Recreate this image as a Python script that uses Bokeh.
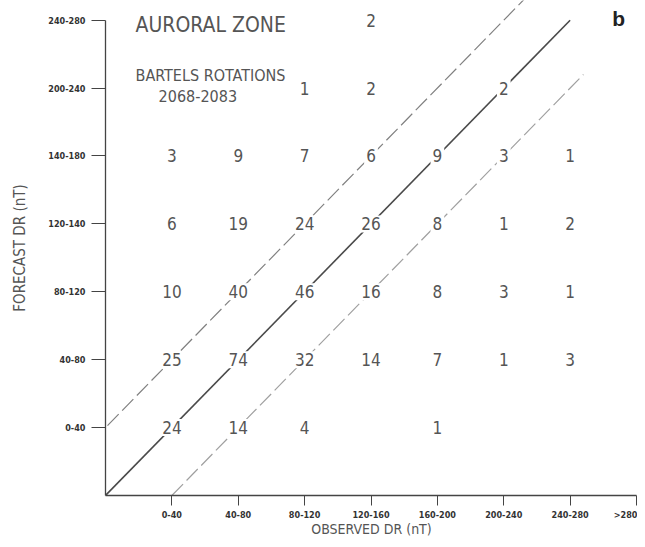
from bokeh.plotting import figure
from bokeh.models import ColumnDataSource, FixedTicker, Label
from bokeh.core.properties import value
from bokeh.embed import file_html
from bokeh.resources import INLINE

# ---- data ----
x_tick_labels = ["0-40", "40-80", "80-120", "120-160", "160-200", "200-240", "240-280", ">280"]
y_tick_labels = ["0-40", "40-80", "80-120", "120-140", "140-180", "200-240", "240-280"]

# counts: (observed column index, forecast row index, count)
cell_obs = [1, 2, 3, 5,
            1, 2, 3, 4, 5, 6, 7,
            1, 2, 3, 4, 5, 6, 7,
            1, 2, 3, 4, 5, 6, 7,
            1, 2, 3, 4, 5, 6, 7,
            3, 4, 6,
            4]
cell_fc = [1, 1, 1, 1,
           2, 2, 2, 2, 2, 2, 2,
           3, 3, 3, 3, 3, 3, 3,
           4, 4, 4, 4, 4, 4, 4,
           5, 5, 5, 5, 5, 5, 5,
           6, 6, 6,
           7]
cell_count = [24, 14, 4, 1,
              25, 74, 32, 14, 7, 1, 3,
              10, 40, 46, 16, 8, 3, 1,
              6, 19, 24, 26, 8, 1, 2,
              3, 9, 7, 6, 9, 3, 1,
              1, 2, 2,
              2]

diag_x = [0, 7]
diag_y = [0, 7]
upper_x = [0.03, 6.4]
upper_y = [1.03, 7.4]
lower_x = [1, 7.2]
lower_y = [0, 6.2]

FONT = "'DejaVu Sans Condensed', 'Roboto Condensed', 'Open Sans Condensed', Roboto"
GREY = "#555555"

p = figure(width=637, height=539, output_backend="svg", toolbar_location=None,
           x_range=(0, 8.015), y_range=(0, 7.29),
           min_border_left=105, min_border_right=0, min_border_top=0, min_border_bottom=41)
p.outline_line_color = None
p.grid.visible = False
p.background_fill_color = "white"

# reference lines
p.line(diag_x, diag_y, line_color="#4a4a4a", line_width=1.6)
p.line(upper_x, upper_y, line_color="#808080", line_width=1.2, line_dash="16 5")
p.line(lower_x, lower_y, line_color="#a0a0a0", line_width=1.2, line_dash="16 5")

src = ColumnDataSource(dict(x=cell_obs, y=cell_fc, t=[str(c) for c in cell_count]))
p.text(x="x", y="y", text="t", source=src, text_align="center", text_baseline="middle",
       text_font=value(FONT), text_font_size="17px", text_color=GREY,
       background_fill_color="white", padding=2)

# axes
for ax, ticks, labels in ((p.xaxis[0], list(range(1, 9)), x_tick_labels),
                          (p.yaxis[0], list(range(1, 8)), y_tick_labels)):
    ax.ticker = FixedTicker(ticks=ticks)
    ax.major_label_overrides = {t: l for t, l in zip(ticks, labels)}
    ax.minor_tick_line_color = None
    ax.axis_line_color = "#444444"
    ax.axis_line_width = 1.3
    ax.major_tick_line_color = "#444444"
    ax.major_label_text_font = FONT
    ax.major_label_text_font_size = "9px"
    ax.major_label_text_font_style = "bold"
    ax.major_label_text_color = "#333333"
    ax.axis_label_text_font = FONT
    ax.axis_label_text_font_size = "15px"
    ax.axis_label_text_font_style = "normal"
    ax.axis_label_text_color = GREY

p.xaxis[0].bounds = (0, 8)
p.yaxis[0].bounds = (0, 7)
p.xaxis[0].major_tick_out = 10
p.xaxis[0].major_tick_in = 0
p.yaxis[0].major_tick_out = 14
p.yaxis[0].major_tick_in = 0
p.xaxis[0].major_label_standoff = 4
p.yaxis[0].major_label_standoff = 6
p.xaxis[0].axis_label = "OBSERVED DR (nT)"
p.xaxis[0].axis_label_text_font_size = "14px"
p.xaxis[0].axis_label_standoff = -2
p.yaxis[0].axis_label = "FORECAST DR (nT)"
p.yaxis[0].axis_label_standoff = 16

# annotations
p.add_layout(Label(x=0.452, y=6.93, text="AURORAL ZONE", text_font=FONT, text_font_size="21px",
                   text_color=GREY, text_baseline="middle"))
p.add_layout(Label(x=0.452, y=6.19, text="BARTELS ROTATIONS", text_font=FONT, text_font_size="16px",
                   text_color=GREY, text_baseline="middle"))
p.add_layout(Label(x=0.80, y=5.88, text="2068-2083", text_font=FONT, text_font_size="16px",
                   text_color=GREY, text_baseline="middle"))
p.add_layout(Label(x=7.73, y=7.02, text="b", text_font="Liberation Sans", text_font_size="21px",
                   text_font_style="bold", text_color="#222222", text_baseline="middle",
                   text_align="center"))

open("out.html", "w").write(file_html(p, INLINE))
